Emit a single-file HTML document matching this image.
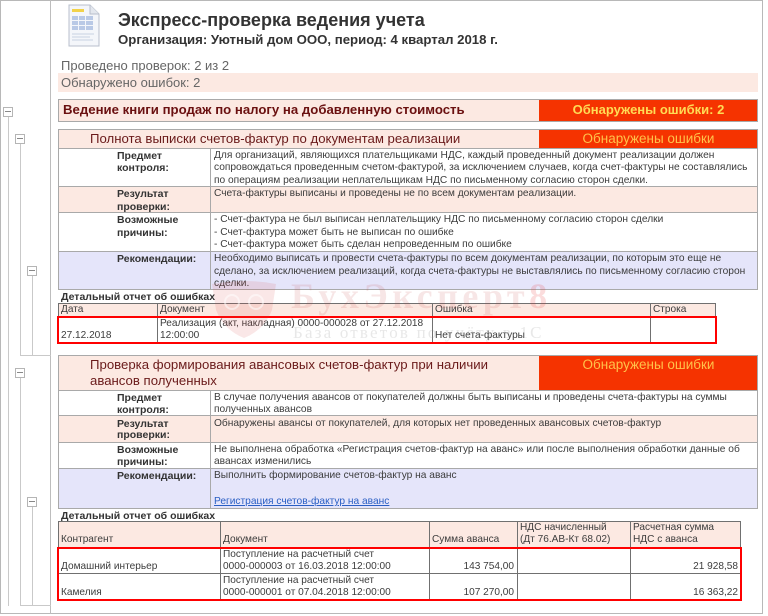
<!DOCTYPE html>
<html><head><meta charset="utf-8">
<style>
*{margin:0;padding:0;box-sizing:border-box}
body{width:768px;height:616px;overflow:hidden;background:#fff;font-family:"Liberation Sans",Arial,sans-serif;position:relative;color:#333}
.a{position:absolute}
.t{position:absolute;white-space:nowrap;font-size:10.2px;line-height:12px;color:#3c3c3c;margin-top:1px}
.d{position:absolute;white-space:nowrap;font-size:10.1px;line-height:12px;color:#3c3c3c}
.b{font-weight:bold;color:#333;font-size:10.5px}
.hl{position:absolute;height:1px;background:#a9a9a9}
.vl{position:absolute;width:1px;background:#a9a9a9}
.dh{position:absolute;height:1px;background:#707070}
.dv{position:absolute;width:1px;background:#707070}
.tl{position:absolute;background:#c9c9c9}
.mb{position:absolute;width:10px;height:10px;border:1px solid #b5b5b5;background:#fff}
.mb::after{content:"";position:absolute;left:1px;top:3px;width:6px;height:1px;background:#888}
.pink{background:#fce9e2}
.lav{background:#e5e5fa}
.red{background:#f53300}
.r{text-align:right}
</style></head><body>

<!-- outer frame -->
<div class="a" style="left:0;top:0;width:763px;height:614px;border:1px solid #b8b8b8"></div>
<div class="tl" style="left:50px;top:0;width:1px;height:614px;background:#bdbdbd"></div>

<!-- tree -->
<div class="tl" style="left:8px;top:117px;width:1px;height:489px"></div>
<div class="tl" style="left:20px;top:144px;width:1px;height:212px"></div>
<div class="tl" style="left:20px;top:355px;width:31px;height:1px"></div>
<div class="tl" style="left:32px;top:276px;width:1px;height:80px"></div>
<div class="tl" style="left:20px;top:378px;width:1px;height:228px"></div>
<div class="tl" style="left:32px;top:507px;width:1px;height:99px"></div>
<div class="tl" style="left:20px;top:605px;width:31px;height:1px"></div>
<div class="mb" style="left:3px;top:107px"></div>
<div class="mb" style="left:15px;top:134px"></div>
<div class="mb" style="left:27px;top:266px"></div>
<div class="mb" style="left:15px;top:368px"></div>
<div class="mb" style="left:27px;top:497px"></div>

<!-- icon -->
<svg class="a" style="left:66px;top:4px" width="36" height="44" viewBox="0 0 36 44">
<path d="M3 1 H24 L33 10 V42 H3 Z" fill="#f4f6fa" stroke="#b8bfcc" stroke-width="1"/>
<path d="M24 1 V10 H33" fill="#e3e7ee" stroke="#b8bfcc" stroke-width="1"/>
<rect x="6" y="5" width="12" height="3" fill="#f2d24a"/>
<g fill="#b9c9e6">
<rect x="6" y="12" width="6" height="4"/><rect x="13" y="12" width="6" height="4"/><rect x="20" y="12" width="7" height="4"/>
<rect x="6" y="17" width="6" height="4"/><rect x="13" y="17" width="6" height="4"/><rect x="20" y="17" width="7" height="4"/>
<rect x="6" y="22" width="6" height="4"/><rect x="13" y="22" width="6" height="4"/><rect x="20" y="22" width="7" height="4"/>
</g>
<g stroke="#c9d2e2" stroke-width="1"><line x1="6" y1="30" x2="28" y2="30"/><line x1="6" y1="33" x2="24" y2="33"/><line x1="6" y1="36" x2="27" y2="36"/></g>
</svg>

<!-- header -->
<div class="a" style="left:118px;top:9px;font-size:18px;line-height:22px;font-weight:bold;color:#333;white-space:nowrap">Экспресс-проверка ведения учета</div>
<div class="a" style="left:118px;top:32px;font-size:13.2px;line-height:16px;font-weight:bold;color:#333;white-space:nowrap">Организация: Уютный дом ООО, период: 4 квартал 2018 г.</div>

<div class="a" style="left:61px;top:58px;font-size:13px;line-height:16px;color:#666;white-space:nowrap">Проведено проверок: 2 из 2</div>
<div class="a pink" style="left:58px;top:73px;width:700px;height:19px"></div>
<div class="a" style="left:61px;top:75px;font-size:13px;line-height:16px;color:#666;white-space:nowrap">Обнаружено ошибок: 2</div>

<!-- section 1 -->
<div class="a pink" style="left:58px;top:99px;width:481px;height:23px"></div>
<div class="a red" style="left:539px;top:99px;width:219px;height:23px"></div>
<div class="a" style="left:58px;top:99px;width:700px;height:23px;border:1px solid #a9a9a9"></div>
<div class="a" style="left:63px;top:102px;font-size:13.2px;line-height:16px;font-weight:bold;color:#6a1010;white-space:nowrap">Ведение книги продаж по налогу на добавленную стоимость</div>
<div class="a" style="left:539px;top:102px;width:219px;text-align:center;font-size:13px;line-height:16px;font-weight:bold;color:#ffdc55;white-space:nowrap">Обнаружены ошибки: 2</div>

<!-- section A -->
<div class="a pink" style="left:58px;top:129px;width:481px;height:19px"></div>
<div class="a red" style="left:539px;top:129px;width:219px;height:19px"></div>
<div class="a pink" style="left:58px;top:186px;width:700px;height:26px"></div>
<div class="a lav" style="left:58px;top:251px;width:700px;height:38px"></div>
<div class="a" style="left:58px;top:129px;width:700px;height:161px;border:1px solid #a9a9a9"></div>
<div class="hl" style="left:58px;top:148px;width:700px"></div>
<div class="hl" style="left:58px;top:186px;width:700px"></div>
<div class="hl" style="left:58px;top:212px;width:700px"></div>
<div class="hl" style="left:58px;top:251px;width:700px"></div>
<div class="vl" style="left:210px;top:148px;height:141px"></div>
<div class="a" style="left:90px;top:130px;font-size:13.2px;line-height:17px;color:#6a1a1a;white-space:nowrap">Полнота выписки счетов-фактур по документам реализации</div>
<div class="a" style="left:539px;top:130px;width:219px;text-align:center;font-size:13.5px;line-height:17px;color:#ffc24a;white-space:nowrap">Обнаружены ошибки</div>

<div class="t b" style="left:117px;top:149px">Предмет</div>
<div class="t b" style="left:117px;top:161px">контроля:</div>
<div class="t" style="left:214px;top:149px">Для организаций, являющихся плательщиками НДС, каждый проведенный документ реализации должен</div>
<div class="t" style="left:214px;top:161px">сопровождаться проведенным счетом-фактурой, за исключением случаев, когда счет-фактуры не составлялись</div>
<div class="t" style="left:214px;top:174px">по операциям реализации неплательщикам НДС по письменному согласию сторон сделки.</div>

<div class="t b" style="left:117px;top:187px">Результат</div>
<div class="t b" style="left:117px;top:200px">проверки:</div>
<div class="t" style="left:214px;top:187px">Счета-фактуры выписаны и проведены не по всем документам реализации.</div>

<div class="t b" style="left:117px;top:213px">Возможные</div>
<div class="t b" style="left:117px;top:226px">причины:</div>
<div class="t" style="left:214px;top:213px">- Счет-фактура не был выписан неплательщику НДС по письменному согласию сторон сделки</div>
<div class="t" style="left:214px;top:226px">- Счет-фактура может быть не выписан по ошибке</div>
<div class="t" style="left:214px;top:238px">- Счет-фактура может быть сделан непроведенным по ошибке</div>

<div class="t b" style="left:117px;top:252px">Рекомендации:</div>
<div class="t" style="left:214px;top:252px">Необходимо выписать и провести счета-фактуры по всем документам реализации, по которым это еще не</div>
<div class="t" style="left:214px;top:265px">сделано, за исключением реализаций, когда счета-фактуры не выставлялись по письменному согласию сторон</div>
<div class="t" style="left:214px;top:277px">сделки.</div>

<!-- detail C -->
<div class="t b" style="left:61px;top:290px">Детальный отчет об ошибках</div>
<div class="a pink" style="left:58px;top:303px;width:657px;height:14px"></div>
<div class="a" style="left:58px;top:303px;width:658px;height:40px;border:1px solid #707070"></div>
<div class="dh" style="left:58px;top:317px;width:657px"></div>
<div class="dv" style="left:157px;top:303px;height:39px"></div>
<div class="dv" style="left:432px;top:303px;height:39px"></div>
<div class="dv" style="left:650px;top:303px;height:39px"></div>
<div class="d" style="left:61px;top:304px">Дата</div>
<div class="d" style="left:160px;top:304px">Документ</div>
<div class="d" style="left:435px;top:304px">Ошибка</div>
<div class="d" style="left:653px;top:304px">Строка</div>
<div class="d" style="left:61px;top:330px">27.12.2018</div>
<div class="d" style="left:160px;top:318px">Реализация (акт, накладная) 0000-000028 от 27.12.2018</div>
<div class="d" style="left:160px;top:330px">12:00:00</div>
<div class="d" style="left:435px;top:330px">Нет счета-фактуры</div>
<div class="a" style="left:57px;top:316px;width:660px;height:28px;border:2px solid #f00"></div>

<!-- section B -->
<div class="a pink" style="left:58px;top:355px;width:481px;height:35px"></div>
<div class="a red" style="left:539px;top:355px;width:219px;height:35px"></div>
<div class="a pink" style="left:58px;top:415px;width:700px;height:27px"></div>
<div class="a lav" style="left:58px;top:468px;width:700px;height:40px"></div>
<div class="a" style="left:58px;top:355px;width:700px;height:154px;border:1px solid #a9a9a9"></div>
<div class="hl" style="left:58px;top:390px;width:700px"></div>
<div class="hl" style="left:58px;top:415px;width:700px"></div>
<div class="hl" style="left:58px;top:442px;width:700px"></div>
<div class="hl" style="left:58px;top:468px;width:700px"></div>
<div class="vl" style="left:210px;top:390px;height:118px"></div>
<div class="a" style="left:90px;top:357px;font-size:13.2px;line-height:16px;color:#6a1a1a;white-space:nowrap">Проверка формирования авансовых счетов-фактур при наличии<br>авансов полученных</div>
<div class="a" style="left:539px;top:357px;width:219px;text-align:center;font-size:13.5px;line-height:16px;color:#ffc24a;white-space:nowrap">Обнаружены ошибки</div>

<div class="t b" style="left:117px;top:391px">Предмет</div>
<div class="t b" style="left:117px;top:403px">контроля:</div>
<div class="t" style="left:214px;top:391px">В случае получения авансов от покупателей должны быть выписаны и проведены счета-фактуры на суммы</div>
<div class="t" style="left:214px;top:403px">полученных авансов</div>

<div class="t b" style="left:117px;top:417px">Результат</div>
<div class="t b" style="left:117px;top:428px">проверки:</div>
<div class="t" style="left:214px;top:417px">Обнаружены авансы от покупателей, для которых нет проведенных авансовых счетов-фактур</div>

<div class="t b" style="left:117px;top:443px">Возможные</div>
<div class="t b" style="left:117px;top:455px">причины:</div>
<div class="t" style="left:214px;top:443px">Не выполнена обработка «Регистрация счетов-фактур на аванс» или после выполнения обработки данные об</div>
<div class="t" style="left:214px;top:455px">авансах изменились</div>

<div class="t b" style="left:117px;top:469px">Рекомендации:</div>
<div class="t" style="left:214px;top:469px">Выполнить формирование счетов-фактур на аванс</div>
<div class="t" style="left:214px;top:495px;color:#2a5fc4;text-decoration:underline">Регистрация счетов-фактур на аванс</div>

<!-- detail D -->
<div class="t b" style="left:61px;top:509px">Детальный отчет об ошибках</div>
<div class="a pink" style="left:58px;top:521px;width:682px;height:27px"></div>
<div class="a" style="left:58px;top:521px;width:683px;height:79px;border:1px solid #707070"></div>
<div class="dh" style="left:58px;top:548px;width:682px"></div>
<div class="dh" style="left:58px;top:573px;width:682px"></div>
<div class="dv" style="left:220px;top:521px;height:78px"></div>
<div class="dv" style="left:429px;top:521px;height:78px"></div>
<div class="dv" style="left:517px;top:521px;height:78px"></div>
<div class="dv" style="left:630px;top:521px;height:78px"></div>
<div class="d" style="left:61px;top:534px">Контрагент</div>
<div class="d" style="left:223px;top:534px">Документ</div>
<div class="d" style="left:432px;top:534px">Сумма аванса</div>
<div class="d" style="left:520px;top:522px">НДС начисленный</div>
<div class="d" style="left:520px;top:534px">(Дт 76.АВ-Кт 68.02)</div>
<div class="d" style="left:633px;top:522px">Расчетная сумма</div>
<div class="d" style="left:633px;top:534px">НДС с аванса</div>

<div class="d" style="left:61px;top:561px">Домашний интерьер</div>
<div class="d" style="left:223px;top:549px">Поступление на расчетный счет</div>
<div class="d" style="left:223px;top:561px">0000-000003 от 16.03.2018 12:00:00</div>
<div class="d r" style="left:430px;width:84px;top:561px">143 754,00</div>
<div class="d r" style="left:631px;width:107px;top:561px">21 928,58</div>

<div class="d" style="left:61px;top:587px">Камелия</div>
<div class="d" style="left:223px;top:575px">Поступление на расчетный счет</div>
<div class="d" style="left:223px;top:587px">0000-000001 от 07.04.2018 12:00:00</div>
<div class="d r" style="left:430px;width:84px;top:587px">107 270,00</div>
<div class="d r" style="left:631px;width:107px;top:587px">16 363,22</div>
<div class="a" style="left:57px;top:547px;width:685px;height:54px;border:2px solid #f00"></div>

<!-- watermark -->
<svg class="a" style="left:208px;top:280px" width="72" height="60" viewBox="0 0 72 60">
<path d="M4 4 Q36 -2 68 4 L64 30 Q56 50 36 58 Q16 50 8 30 Z" fill="rgba(215,70,70,0.13)"/>
<circle cx="24" cy="22" r="7" fill="none" stroke="rgba(255,255,255,0.5)" stroke-width="2"/>
<circle cx="48" cy="22" r="7" fill="none" stroke="rgba(255,255,255,0.5)" stroke-width="2"/>
</svg>
<div class="a" style="left:291px;top:278px;font-family:'Liberation Serif',serif;font-weight:bold;font-size:36px;line-height:36px;color:rgba(190,60,60,0.13);white-space:nowrap;letter-spacing:4.5px">БухЭксперт<span style="color:rgba(235,60,60,0.18)">8</span></div>
<div class="a" style="left:293px;top:323px;font-family:'Liberation Serif',serif;font-size:17px;line-height:20px;color:rgba(140,140,140,0.2);white-space:nowrap;letter-spacing:2.2px">База ответов по учёту в 1С</div>

</body></html>
